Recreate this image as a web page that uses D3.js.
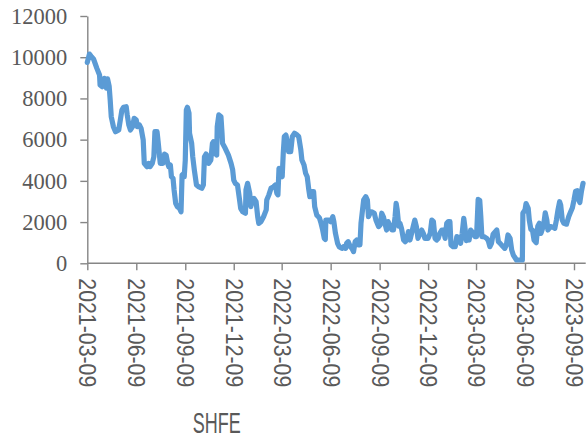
<!DOCTYPE html>
<html><head><meta charset="utf-8">
<script src="https://cdn.jsdelivr.net/npm/d3@7"></script>
<style>html,body{margin:0;padding:0;background:#fff;}svg{display:block;}</style>
</head><body>
<script>
const dates = ["2021-03-09","2021-03-13","2021-03-16","2021-03-21","2021-03-27","2021-04-01","2021-04-02","2021-04-06","2021-04-10","2021-04-14","2021-04-16","2021-04-19","2021-04-21","2021-04-23","2021-04-27","2021-05-01","2021-05-07","2021-05-10","2021-05-13","2021-05-16","2021-05-21","2021-05-23","2021-05-26","2021-05-29","2021-06-02","2021-06-05","2021-06-09",
"2021-06-11","2021-06-15","2021-06-18","2021-06-22","2021-06-24","2021-06-29","2021-07-02","2021-07-05","2021-07-09","2021-07-12","2021-07-14","2021-07-18","2021-07-20","2021-07-24","2021-07-29","2021-08-01","2021-08-04","2021-08-07","2021-08-09","2021-08-12","2021-08-14","2021-08-17","2021-08-19","2021-08-22","2021-08-25","2021-08-29","2021-09-01","2021-09-03","2021-09-06","2021-09-07",
"2021-09-09","2021-09-11","2021-09-13","2021-09-16","2021-09-17","2021-09-21","2021-09-23","2021-09-26","2021-09-30","2021-10-04","2021-10-10","2021-10-13","2021-10-15","2021-10-18","2021-10-21","2021-10-23","2021-10-27","2021-10-30","2021-11-01","2021-11-04","2021-11-07","2021-11-08","2021-11-11","2021-11-15","2021-11-17","2021-11-18","2021-11-23","2021-11-29","2021-12-04","2021-12-07","2021-12-09",
"2021-12-12","2021-12-16","2021-12-20","2021-12-22","2021-12-26","2021-12-31","2022-01-01","2022-01-04","2022-01-08","2022-01-10","2022-01-13","2022-01-16","2022-01-20","2022-01-23","2022-01-25","2022-01-29","2022-02-03","2022-02-08","2022-02-09","2022-02-13","2022-02-17","2022-02-22","2022-02-25","2022-02-28","2022-03-02","2022-03-04","2022-03-07",
"2022-03-10","2022-03-12","2022-03-14","2022-03-17","2022-03-20","2022-03-22","2022-03-26","2022-03-29","2022-04-02","2022-04-07","2022-04-10","2022-04-14","2022-04-16","2022-04-20","2022-04-23","2022-04-26","2022-04-29","2022-05-01","2022-05-04","2022-05-08","2022-05-10","2022-05-14","2022-05-17","2022-05-19","2022-05-22","2022-05-25","2022-05-28","2022-05-30","2022-05-31","2022-06-05","2022-06-09",
"2022-06-13","2022-06-15","2022-06-18","2022-06-22","2022-06-25","2022-06-30","2022-07-03","2022-07-07","2022-07-09","2022-07-12","2022-07-16","2022-07-19","2022-07-22","2022-07-25","2022-07-28","2022-07-31","2022-08-03","2022-08-05","2022-08-10","2022-08-14","2022-08-17","2022-08-19","2022-08-22","2022-08-25","2022-08-30","2022-09-02","2022-09-07",
"2022-09-10","2022-09-13","2022-09-16","2022-09-19","2022-09-22","2022-09-25","2022-09-29","2022-10-02","2022-10-05","2022-10-08","2022-10-10","2022-10-12","2022-10-15","2022-10-17","2022-10-20","2022-10-24","2022-10-27","2022-10-30","2022-11-02","2022-11-05","2022-11-08","2022-11-11","2022-11-14","2022-11-17","2022-11-20","2022-11-24","2022-11-27","2022-11-30","2022-12-03","2022-12-06",
"2022-12-09","2022-12-13","2022-12-16","2022-12-19","2022-12-22","2022-12-25","2022-12-28","2022-12-31","2023-01-04","2023-01-07","2023-01-10","2023-01-13","2023-01-16","2023-01-19","2023-01-21","2023-01-25","2023-01-29","2023-02-01","2023-02-05","2023-02-08","2023-02-11","2023-02-14","2023-02-16","2023-02-19","2023-02-21","2023-02-24","2023-02-27","2023-03-04","2023-03-07",
"2023-03-10","2023-03-13","2023-03-16","2023-03-18","2023-03-20","2023-03-24","2023-03-29","2023-04-01","2023-04-04","2023-04-07","2023-04-10","2023-04-13","2023-04-17","2023-04-20","2023-04-23","2023-04-26","2023-04-29","2023-05-02","2023-05-05","2023-05-08","2023-05-12","2023-05-15","2023-05-18","2023-05-21","2023-05-24","2023-05-30","2023-06-04","2023-06-05","2023-06-09",
"2023-06-11","2023-06-15","2023-06-17","2023-06-20","2023-06-23","2023-06-26","2023-06-30","2023-07-03","2023-07-06","2023-07-09","2023-07-14","2023-07-17","2023-07-20","2023-07-22","2023-07-27","2023-08-01","2023-08-04","2023-08-07","2023-08-10","2023-08-13","2023-08-15","2023-08-18","2023-08-21","2023-08-26","2023-08-30","2023-09-02","2023-09-06","2023-09-09",
"2023-09-12","2023-09-15","2023-09-18","2023-09-20","2023-09-23","2023-09-26"];
const values = [9750,10150,10050,9900,9460,9137,8650,8570,8975,8500,8950,8600,7920,7110,6630,6385,6470,6950,7440,7570,7600,7200,6710,6470,6630,7035,6950,
6630,6710,6550,5980,4850,4690,4850,4690,4850,5170,6385,6385,5900,4850,4850,5300,5250,4850,4690,4770,4200,4125,3560,2910,2750,2670,2500,4280,4360,4200,
5010,7440,7570,7280,6310,5820,5170,4530,3800,3720,3640,3800,5170,5300,5170,4850,5010,5820,5900,5340,5250,6630,7200,7110,6310,5820,5580,5250,4850,4530,4040,
3880,3800,3070,2670,2500,2430,3560,3880,3400,2750,3070,3150,2990,2260,1940,2020,2260,2590,3070,3320,3640,3720,3800,3400,3320,4610,4530,
4200,5340,6145,6225,5820,5420,5420,6145,6310,6225,6145,5500,5010,4770,4370,4200,3560,3230,3480,3480,2750,2340,2260,2200,1940,1615,1210,1160,2100,2100,2020,
2260,2020,1455,970,805,725,805,725,970,1050,805,725,565,1050,1130,890,890,1940,3070,3230,3070,2260,2430,2500,2430,2100,1780,
1860,2430,2260,1940,1615,2020,1780,1615,1615,2260,2910,2590,1800,1950,1700,1130,1050,1130,1535,1130,1455,1780,2100,1780,1210,1455,1615,1455,1210,1210,
1210,1455,2100,2020,1210,1130,1210,1455,1615,1615,1210,1940,2020,2020,890,805,805,1295,1210,970,1455,2180,1780,1100,1455,1130,1615,1455,1295,
1295,3100,3050,2260,1295,1295,1210,1100,805,970,1400,1500,1615,1050,970,890,805,725,890,1375,1210,645,400,280,160,160,160,2430,2590,
2900,2670,2100,1650,1615,1130,1000,1800,1940,1455,1860,2450,2100,1615,1780,1750,1700,2100,2600,2990,2830,2100,1940,1900,2260,2450,2700,3070,
3500,3520,3070,2950,3500,3880];
const tickDates = ["2021-03-09","2021-06-09","2021-09-09","2021-12-09","2022-03-09","2022-06-09","2022-09-09","2022-12-09","2023-03-09","2023-06-09","2023-09-09"];
const yTicks = [0,2000,4000,6000,8000,10000,12000];
const seriesLabel = "SHFE";

const W = 588, H = 439;
const parse = d3.utcParse("%Y-%m-%d");
const fmt = d3.utcFormat("%Y-%m-%d");
const data = dates.map((d,i)=>({date: parse(d), value: values[i]}));

const svg = d3.select("body").append("svg").attr("width", W).attr("height", H);

const x = d3.scaleUtc().domain([parse(tickDates[0]), parse(tickDates[tickDates.length-1])]).range([87.3, 574]);
const y = d3.scaleLinear().domain([0, 12000]).range([263.3, 16]);

const axisColor = "#868686";
const textColor = "#595959";

// y axis
const gy = svg.append("g").attr("transform", "translate(87.3,0)")
  .call(d3.axisLeft(y).tickValues(yTicks).tickSize(7).tickSizeOuter(0).tickFormat(d3.format("d")));
gy.select(".domain").attr("stroke", axisColor).attr("stroke-width", 1.4);
gy.selectAll(".tick line").attr("stroke", axisColor).attr("stroke-width", 1.4);
gy.selectAll(".tick text").attr("x", -20).attr("fill", textColor)
  .style("font-family", "'Liberation Serif','Times New Roman',serif").style("font-size", "22.5px");

// x axis
const xEnd = parse("2023-10-01");
const gx = svg.append("g").attr("transform", "translate(0,263.3)")
  .call(d3.axisBottom(x).tickValues(tickDates.map(parse)).tickSize(7).tickSizeOuter(0).tickFormat(fmt));
gx.select(".domain").attr("d", `M${x.range()[0]},0H${x(xEnd)}`).attr("stroke", axisColor).attr("stroke-width", 1.4);
gx.selectAll(".tick line").attr("stroke", axisColor).attr("stroke-width", 1.4);
gx.selectAll(".tick text")
  .attr("transform", "rotate(90)")
  .attr("x", 15).attr("y", 0).attr("dy", "0.35em")
  .attr("text-anchor", "start")
  .attr("fill", textColor)
  .attr("textLength", 109).attr("lengthAdjust", "spacingAndGlyphs")
  .style("font-family", "'Liberation Sans',Arial,sans-serif").style("font-size", "24.5px");

// line
const line = d3.line().x(d=>x(d.date)).y(d=>y(d.value));
svg.append("path").datum(data)
  .attr("d", line)
  .attr("fill", "none")
  .attr("stroke", "#5B9BD5")
  .attr("stroke-width", 5.2)
  .attr("stroke-linejoin", "round")
  .attr("stroke-linecap", "round");

// legend label
svg.append("text").attr("x", 192.7).attr("y", 433)
  .attr("fill", textColor)
  .attr("textLength", 48).attr("lengthAdjust", "spacingAndGlyphs")
  .style("font-family", "'Liberation Sans',Arial,sans-serif").style("font-size", "29px")
  .text(seriesLabel);
</script>
</body></html>
